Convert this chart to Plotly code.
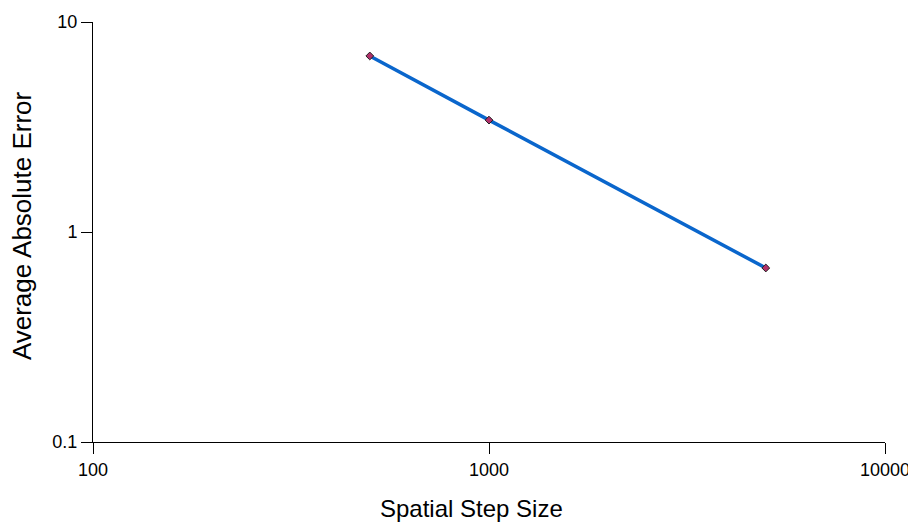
import plotly.graph_objects as go

# Convergence study: average absolute error vs spatial step size
step_size = [500, 1000, 5000]
avg_abs_error = [6.89, 3.41, 0.674]

x_ticks = [100, 1000, 10000]
x_tick_text = ["100", "1000", "10000"]
y_ticks = [0.1, 1, 10]
y_tick_text = ["0.1", "1", "10"]

x_title = "Spatial Step Size"
y_title = "Average Absolute Error"

fig = go.Figure()
fig.add_trace(go.Scatter(
    x=step_size,
    y=avg_abs_error,
    mode="lines+markers",
    line=dict(color="#0a66cc", width=3.5),
    marker=dict(symbol="diamond", size=6, color="#b0306a",
                line=dict(color="#222222", width=1)),
    showlegend=False,
))

FONT = "Liberation Sans, Arial, sans-serif"
tick_font = dict(family=FONT, size=18, color="#000000")

common = dict(
    type="log",
    ticks="outside",
    ticklen=11,
    tickcolor="#000000",
    showline=True,
    linecolor="#000000",
    linewidth=1,
    showgrid=False,
    zeroline=False,
    tickfont=tick_font,
    automargin=False,
    ticklabeloverflow="allow",
)

fig.update_xaxes(range=[2, 4], tickvals=x_ticks, ticktext=x_tick_text, **common)
fig.update_yaxes(range=[-1, 1], tickvals=y_ticks, ticktext=y_tick_text, **common)

# Axis titles placed as paper-anchored annotations
fig.add_annotation(
    text=x_title, xref="paper", yref="paper", x=0.4785, y=0,
    xanchor="center", yanchor="middle", yshift=-66, showarrow=False,
    font=dict(family=FONT, size=24, color="#000000"),
)
fig.add_annotation(
    text=y_title, xref="paper", yref="paper", x=0, y=0.514,
    xanchor="center", yanchor="middle", xshift=-71, textangle=-90,
    showarrow=False,
    font=dict(family=FONT, size=26, color="#000000"),
)

fig.update_layout(
    width=908,
    height=525,
    margin=dict(l=93, r=23, t=22, b=83),
    paper_bgcolor="#ffffff",
    plot_bgcolor="#ffffff",
)

fig.write_html("out.html")
